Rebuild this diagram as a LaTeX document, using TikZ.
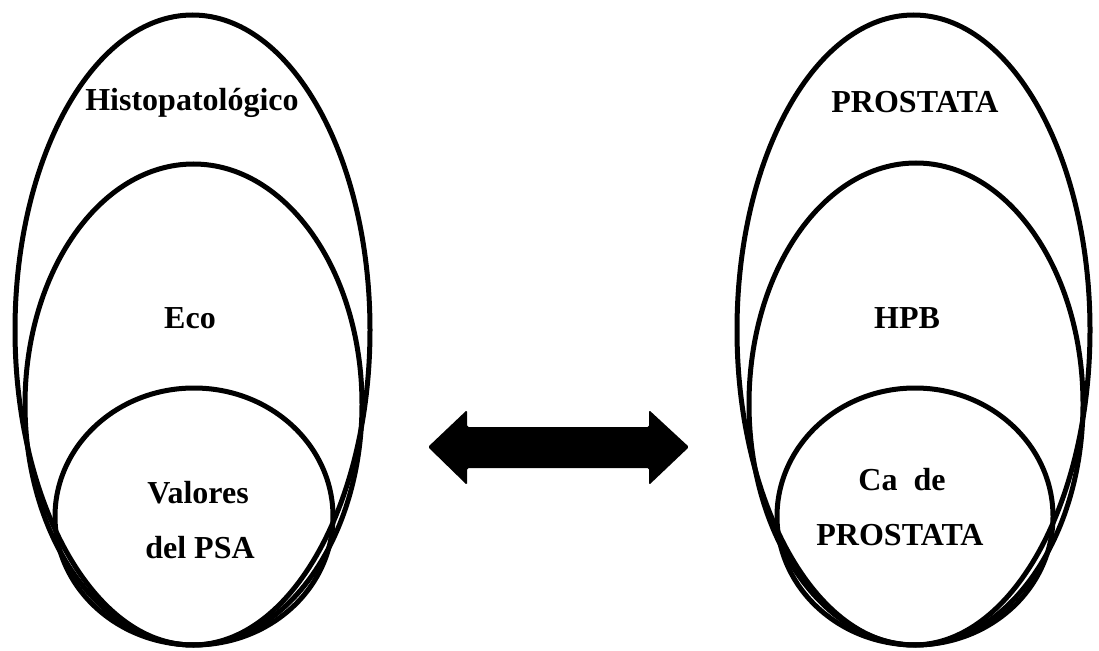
\documentclass[tikz,border=0pt]{standalone}
\usepackage{fontspec}
\setmainfont{Liberation Serif}
\begin{document}
\begin{tikzpicture}[x=1bp,y=-1bp,
  ring/.style={draw=black,line width=5bp},
  lbl/.style={font=\fontsize{32bp}{38bp}\selectfont\bfseries,inner sep=0pt,align=center}]
\useasboundingbox (0,0) rectangle (1099,651);
% left set
\draw[ring] (192.5,330) ellipse [x radius=177.5, y radius=315];
\draw[ring] (193.5,404.5) ellipse [x radius=168.5, y radius=240.5];
\draw[ring] (194,516.5) ellipse [x radius=139, y radius=128.5];
% right set
\draw[ring] (913.5,330) ellipse [x radius=176.5, y radius=315];
\draw[ring] (916,404) ellipse [x radius=167, y radius=241];
\draw[ring] (915,516.5) ellipse [x radius=138, y radius=128.5];
% labels
\node[lbl] (histo) at (192,103) {Histopatológico};
\node[lbl] (eco) at (190,318) {Eco};
\node[lbl] (psa1) at (198,493) {Valores};
\node[lbl] (psa2) at (200,548) {del PSA};
\node[lbl] (pros) at (915,102) {PROSTATA};
\node[lbl] (hpb) at (907,318) {HPB};
\node[lbl] (ca1) at (902,480) {Ca\ \ de};
\node[lbl] (ca2) at (900,535) {PROSTATA};
% double arrow
\fill[black,rounded corners=1.5bp] (428,447) -- (467,410) -- (467,427) -- (649,427) -- (649,410)
  -- (689,447) -- (649,485) -- (649,468) -- (467,468) -- (467,485) -- cycle;
\end{tikzpicture}
\end{document}
